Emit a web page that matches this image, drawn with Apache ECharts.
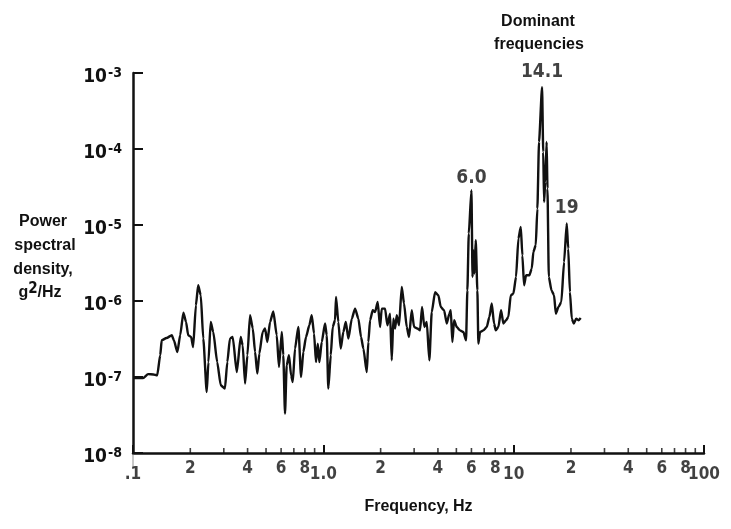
<!DOCTYPE html>
<html>
<head>
<meta charset="utf-8">
<title>Power spectral density</title>
<script src="https://cdn.jsdelivr.net/npm/echarts@6/dist/echarts.min.js"></script>
<style>
  html, body { margin: 0; padding: 0; background: #ffffff; }
  #chart { width: 731px; height: 529px; }
</style>
</head>
<body>
<div id="chart"></div>
<script>
// Frequency (Hz) and power spectral density (g^2/Hz) of the measured response
const freq = [
  0.100, 0.113, 0.120, 0.128, 0.134, 0.139, 0.1415, 0.150, 0.160, 0.164,
  0.171, 0.177, 0.184, 0.190, 0.195, 0.202, 0.207, 0.214, 0.220, 0.227,
  0.234, 0.244, 0.249, 0.256, 0.264, 0.277, 0.289, 0.304, 0.313, 0.323,
  0.334, 0.351, 0.368, 0.377, 0.388, 0.399, 0.412, 0.426, 0.438, 0.450,
  0.461, 0.480, 0.494, 0.508, 0.525, 0.546, 0.569, 0.585, 0.605, 0.616,
  0.629, 0.642, 0.660, 0.677, 0.691, 0.710, 0.739, 0.764, 0.785, 0.811,
  0.844, 0.869, 0.894, 0.915, 0.935, 0.953, 0.981, 1.021, 1.042, 1.062,
  1.094, 1.120, 1.152, 1.166, 1.199, 1.234, 1.274, 1.312, 1.354, 1.411,
  1.468, 1.528, 1.578, 1.623, 1.691, 1.724, 1.760, 1.818, 1.870, 1.931,
  1.986, 2.027, 2.110, 2.170, 2.242, 2.288, 2.333, 2.382, 2.431, 2.499,
  2.582, 2.655, 2.743, 2.820, 2.914, 2.997, 3.118, 3.222, 3.301, 3.394,
  3.494, 3.606, 3.712, 3.864, 4.021, 4.140, 4.309, 4.452, 4.594, 4.673,
  4.764, 4.863, 5.023, 5.227, 5.442, 5.622, 5.711, 5.809, 6.0, 6.08,
  6.14, 6.215, 6.32, 6.446, 6.524, 6.659, 6.931, 7.221, 7.453, 7.672,
  7.889, 8.053, 8.311, 8.587, 8.829, 9.12, 9.378, 9.656, 9.963, 10.29,
  10.59, 10.90, 11.11, 11.34, 11.62, 12.09, 12.45, 12.69, 13.06, 13.32,
  13.59, 14.1, 14.3, 14.45, 14.65, 14.9, 15.05, 15.3, 15.8, 16.3,
  16.65, 17.2, 17.8, 18.4, 19.0, 19.35, 19.75, 20.2, 20.7, 21.3, 21.9, 22.5
];
const psd = [
  9.7e-8, 9.7e-8, 1.09e-7, 1.08e-7, 1.05e-7, 1.93e-7, 3.04e-7, 3.26e-7, 3.54e-7, 3.04e-7,
  2.13e-7, 3.54e-7, 7.03e-7, 5.3e-7, 3.54e-7, 3.36e-7, 2.48e-7, 8.77e-7, 1.61e-6, 1.19e-6,
  3.2e-7, 6.35e-8, 1.57e-7, 5.3e-7, 3.91e-7, 1.57e-7, 7.78e-8, 7.03e-8, 1.57e-7, 3.2e-7,
  3.36e-7, 1.16e-7, 3.36e-7, 2.61e-7, 8.18e-8, 1.93e-7, 6.49e-7, 4.34e-7, 2.13e-7, 1.11e-7,
  2.03e-7, 3.91e-7, 4.34e-7, 2.89e-7, 5.3e-7, 7.31e-7, 3.54e-7, 1.36e-7, 3.91e-7, 1.93e-7,
  3.3e-8, 1.43e-7, 1.93e-7, 1.05e-7, 8.59e-8, 2.37e-7, 4.55e-7, 1.0e-7, 2.13e-7, 3.36e-7,
  4.79e-7, 6.49e-7, 3.72e-7, 1.57e-7, 2.75e-7, 1.57e-7, 2.89e-7, 5.05e-7, 3.54e-7, 7.03e-8,
  1.93e-7, 4.55e-7, 5.57e-7, 1.13e-6, 5.3e-7, 2.37e-7, 3.91e-7, 5.3e-7, 3.2e-7, 5.86e-7,
  7.94e-7, 5.86e-7, 3.36e-7, 2.37e-7, 1.16e-7, 2.89e-7, 5.57e-7, 7.55e-7, 7.16e-7, 9.7e-7,
  4.55e-7, 7.94e-7, 7.94e-7, 4.79e-7, 6.82e-7, 1.66e-7, 5.86e-7, 4.34e-7, 6.49e-7, 4.79e-7,
  1.53e-6, 9.25e-7, 4.55e-7, 3.36e-7, 7.55e-7, 4.55e-7, 4.34e-7, 4.11e-7, 8.34e-7, 4.55e-7,
  5.3e-7, 1.66e-7, 7.16e-7, 1.31e-6, 1.19e-6, 8.34e-7, 7.55e-7, 5.05e-7, 6.82e-7, 7.55e-7,
  2.89e-7, 5.57e-7, 4.55e-7, 4.11e-7, 3.91e-7, 3.04e-7, 1.38e-6, 7.71e-6, 2.86e-5, 2.07e-6,
  4.65e-6, 2.3e-6, 6.3e-6, 1.38e-6, 2.75e-7, 3.91e-7, 4.11e-7, 4.55e-7, 6.15e-7, 9.25e-7,
  5.05e-7, 4.11e-7, 4.55e-7, 7.55e-7, 5.05e-7, 5.57e-7, 6.15e-7, 1.19e-6, 1.25e-6, 2.07e-6,
  6.62e-6, 9.42e-6, 3.99e-6, 1.61e-6, 2.18e-6, 2.18e-6, 2.67e-6, 4.42e-6, 5.41e-6, 1.64e-5,
  1.24e-4, 6.5e-4, 9.14e-5, 2.01e-5, 3.68e-5, 1.24e-4, 3.01e-5, 2.07e-6, 1.38e-6, 1.19e-6,
  6.82e-7, 8.34e-7, 9.7e-7, 3.26e-6, 1.05e-5, 4.89e-6, 1.31e-6, 5.86e-7, 5.05e-7, 5.86e-7, 5.57e-7, 5.97e-7
];

// Dominant frequencies called out above the spectrum
const peakFreq = [6.0, 14.1, 19];
const peakText = ['6.0', '14.1', '19'];

// Frequency axis tick labels and minor tick positions
const xTickValues = [0.1, 0.2, 0.4, 0.6, 0.8, 1, 2, 4, 6, 8, 10, 20, 40, 60, 80, 100];
const xTickText = ['.1', '2', '4', '6', '8', '1.0', '2', '4', '6', '8', '10', '2', '4', '6', '8', '100'];
const minorTickValues = [0.2, 0.3, 0.4, 0.5, 0.6, 0.7, 0.8, 0.9,
                         2, 3, 4, 5, 6, 7, 8, 9,
                         20, 30, 40, 50, 60, 70, 80, 90];

const yMin = 1e-8, yMax = 1e-3;
const ink = '#111111';
const numFont = "'Liberation Sans Narrow', 'DejaVu Sans Condensed', 'Liberation Sans', sans-serif";
const textFont = "'Liberation Sans', Arial, sans-serif";

const chart = echarts.init(document.getElementById('chart'), null, { renderer: 'canvas' });

const lineData = freq.map((f, i) => [f, psd[i]]);
const peakData = peakFreq.map((f, i) => {
  const idx = freq.indexOf(f);
  return { value: [f, psd[idx]], text: peakText[i] };
});
const peakDistance = [2, 5, 5];

// Left-hand axis title, one line per entry
const yTitleLines = [
  { text: 'Power', x: 43, y: 222 },
  { text: 'spectral', x: 45, y: 246 },
  { text: 'density,', x: 43, y: 270 }
];

const option = {
  backgroundColor: '#ffffff',
  animation: false,
  grid: { left: 133, right: 27, top: 73, bottom: 76 },
  xAxis: {
    type: 'log',
    logBase: 10,
    min: 0.1,
    max: 100,
    name: 'Frequency, Hz',
    nameLocation: 'middle',
    nameGap: 46,
    nameTextStyle: { color: ink, fontFamily: textFont, fontWeight: 'bold', fontSize: 16 },
    axisLine: { show: true, onZero: false, lineStyle: { color: ink, width: 2.5 } },
    axisTick: { show: true, inside: true, length: 8, lineStyle: { color: ink, width: 2 } },
    minorTick: { show: false },
    axisLabel: { show: false },
    splitLine: { show: false }
  },
  yAxis: {
    type: 'log',
    logBase: 10,
    min: yMin,
    max: yMax,
    axisLine: { show: true, onZero: false, lineStyle: { color: ink, width: 2.5 } },
    axisTick: { show: true, inside: true, length: 10, lineStyle: { color: ink, width: 2 } },
    splitLine: { show: false },
    axisLabel: {
      margin: 11,
      padding: [8, 0, 0, 0],
      formatter: function (v) {
        const e = Math.round(Math.log10(v));
        return '{b|10}{s|' + e + '}';
      },
      rich: {
        b: { fontFamily: numFont, fontWeight: 'bold', fontSize: 19, color: ink, lineHeight: 22 },
        s: { fontFamily: numFont, fontWeight: 'bold', fontSize: 14, color: ink, lineHeight: 12,
             verticalAlign: 'top', padding: [0, 0, 0, 1] }
      }
    }
  },
  graphic: yTitleLines.map(l => ({
    type: 'text',
    style: { text: l.text, x: l.x, y: l.y, textAlign: 'center', textVerticalAlign: 'middle',
             font: 'bold 16px ' + textFont, fill: ink }
  })).concat([
    {
      type: 'text',
      style: {
        text: '{n|g}{s|2}{n|/Hz}', x: 40, y: 293, textAlign: 'center', textVerticalAlign: 'middle',
        rich: {
          n: { fontFamily: textFont, fontWeight: 'bold', fontSize: 16, fill: ink, color: ink, lineHeight: 22 },
          s: { fontFamily: numFont, fontWeight: 'bold', fontSize: 15, fill: ink, color: ink, lineHeight: 14, verticalAlign: 'top' }
        }
      }
    },
    {
      type: 'text',
      style: { text: 'Dominant', x: 538, y: 22, textAlign: 'center', textVerticalAlign: 'middle',
               font: 'bold 16px ' + textFont, fill: ink }
    },
    {
      type: 'text',
      style: { text: 'frequencies', x: 539, y: 45, textAlign: 'center', textVerticalAlign: 'middle',
               font: 'bold 16px ' + textFont, fill: ink }
    }
  ]),
  series: [
    {
      name: 'PSD',
      type: 'line',
      data: lineData,
      showSymbol: false,
      symbol: 'none',
      smooth: 0.2,
      smoothMonotone: 'x',
      clip: false,
      lineStyle: { color: ink, width: 2.4, join: 'round' },
      z: 3
    },
    {
      name: 'minor ticks',
      type: 'scatter',
      data: minorTickValues.map(v => [v, yMin]),
      symbol: 'rect',
      symbolSize: [1.6, 5],
      symbolOffset: [0, -2.5],
      itemStyle: { color: ink },
      clip: false,
      silent: true,
      z: 2
    },
    {
      // short faint extension of the origin tick below the frequency axis
      name: 'origin tick',
      type: 'scatter',
      data: [[0.1, yMin]],
      symbol: 'rect',
      symbolSize: [1, 14],
      symbolOffset: [0, 8],
      itemStyle: { color: '#777777' },
      clip: false,
      silent: true,
      z: 1
    },
    {
      name: 'tick labels',
      type: 'scatter',
      data: xTickValues.map((v, i) => {
        const decade = Math.abs(Math.log10(v) - Math.round(Math.log10(v))) < 1e-9;
        return {
          value: [v, yMin],
          label: { formatter: xTickText[i], distance: decade ? 13 : 7 }
        };
      }),
      symbolSize: 1,
      itemStyle: { color: 'rgba(0,0,0,0)' },
      clip: false,
      silent: true,
      label: {
        show: true,
        position: 'bottom',
        color: ink,
        fontFamily: numFont,
        fontWeight: 'bold',
        fontSize: 17
      }
    },
    {
      name: 'dominant peaks',
      type: 'scatter',
      data: peakData.map((d, i) => ({
        value: d.value,
        label: { formatter: d.text, distance: peakDistance[i] }
      })),
      symbolSize: 1,
      itemStyle: { color: 'rgba(0,0,0,0)' },
      clip: false,
      silent: true,
      label: {
        show: true,
        position: 'top',
        color: ink,
        fontFamily: numFont,
        fontWeight: 'bold',
        fontSize: 19
      },
      z: 4
    }
  ]
};

chart.setOption(option);
</script>
</body>
</html>
